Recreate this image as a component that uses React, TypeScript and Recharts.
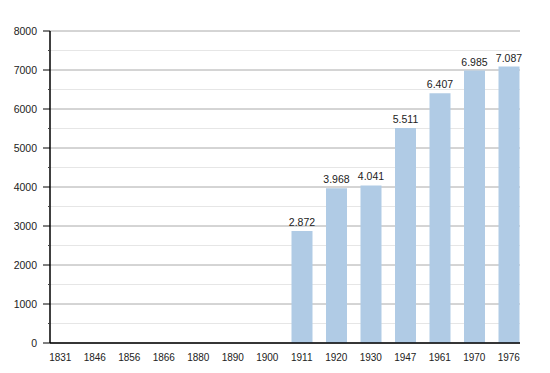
import { Bar, BarChart, CartesianGrid, LabelList, XAxis, YAxis } from "recharts";

const YEARS = ["1831", "1846", "1856", "1866", "1880", "1890", "1900", "1911", "1920", "1930", "1947", "1961", "1970", "1976"];
const POPULATION: (number | null)[] = [null, null, null, null, null, null, null, 2872, 3968, 4041, 5511, 6407, 6985, 7087];
const MAJOR_TICKS = [0, 1000, 2000, 3000, 4000, 5000, 6000, 7000, 8000];
const MINOR_TICKS = [500, 1500, 2500, 3500, 4500, 5500, 6500, 7500];

const FONT = "'Liberation Sans', Arial, sans-serif";
const BAR_COLOR = "#b0cbe5";

const data = YEARS.map((year, i) => ({ year, value: POPULATION[i] }));

const fmt = (v: unknown) =>
  typeof v === "number" ? v.toString().replace(/\B(?=(\d{3})+(?!\d))/g, ".") : "";

function YTick(props: { x?: number; y?: number; payload?: { value: number } }) {
  const { x = 0, y = 0, payload } = props;
  const v = payload?.value ?? 0;
  const major = v % 1000 === 0;
  return (
    <g>
      <line x1={x - (major ? 7 : 2)} x2={x} y1={y} y2={y} stroke={major ? "#000" : "#444"} strokeWidth={1} />
      {major && (
        <text x={x - 13} y={y} dy="0.35em" textAnchor="end" fontSize={10.5} fill="#222" fontFamily={FONT}>
          {v}
        </text>
      )}
    </g>
  );
}

export default function App() {
  return (
    <div style={{ position: "absolute", left: 0, top: 0, background: "#fff" }}>
      <BarChart
        width={550}
        height={373}
        data={data}
        margin={{ top: 31, right: 30, bottom: 0, left: 0 }}
        barSize={21}
      >
        <CartesianGrid vertical={false} horizontalValues={MINOR_TICKS} stroke="#e6e6e6" />
        <CartesianGrid vertical={false} horizontalValues={MAJOR_TICKS} stroke="#aaaaaa" />
        <XAxis
          dataKey="year"
          height={30}
          padding={{ left: -7, right: -6 }}
          tickLine={false}
          tickMargin={5}
          axisLine={{ stroke: "#000", strokeWidth: 1.5 }}
          tick={{ fontSize: 10, fill: "#222", fontFamily: FONT }}
          interval={0}
        />
        <YAxis
          width={50}
          domain={[0, 8000]}
          ticks={[...MAJOR_TICKS, ...MINOR_TICKS].sort((a, b) => a - b)}
          interval={0}
          tickLine={false}
          tickSize={0}
          tickMargin={0}
          axisLine={{ stroke: "#000", strokeWidth: 1.5 }}
          tick={<YTick />}
        />
        <Bar dataKey="value" fill={BAR_COLOR} isAnimationActive={false}>
          <LabelList
            dataKey="value"
            position="top"
            offset={5}
            formatter={fmt}
            style={{ fontSize: 10.5, fill: "#222", fontFamily: FONT }}
          />
        </Bar>
      </BarChart>
    </div>
  );
}
